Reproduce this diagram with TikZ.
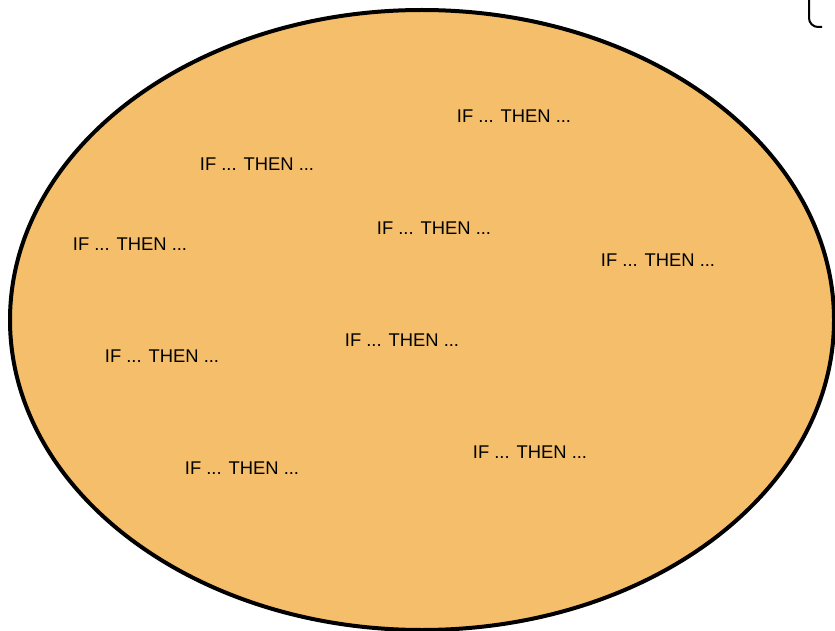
\documentclass[tikz,border=0pt]{standalone}
\usepackage{fontspec}
\setmainfont{Liberation Sans}
\usepackage{xcolor}
\definecolor{SetOrange}{RGB}{245,190,106}
\tikzset{
	rulebase/.style={draw=black, line width=4pt, fill=SetOrange},
	rule/.style={font=\fontsize{18.4}{21}\selectfont, inner sep=0pt},
	frag/.style={draw=black, line width=2pt}
}

\begin{document}
\begin{tikzpicture}[x=1pt, y=-1pt]
		\useasboundingbox (0,0) rectangle (835,631);
		\draw[rulebase] (422,320) ellipse [x radius=412, y radius=310];
		% corner of a box cut off at the top right
		\draw[frag] (809,0) -- (809,18) arc[start angle=180, end angle=270, x radius=9, y radius=-9] -- (822,27);
		\node[rule] (r1) at (514,116) {IF ... THEN ...};
		\node[rule] (r2) at (257,164) {IF ... THEN ...};
		\node[rule] (r3) at (130,244) {IF ... THEN ...};
		\node[rule] (r4) at (434,228) {IF ... THEN ...};
		\node[rule] (r5) at (658,260) {IF ... THEN ...};
		\node[rule] (r6) at (162,356) {IF ... THEN ...};
		\node[rule] (r7) at (402,340) {IF ... THEN ...};
		\node[rule] (r8) at (242,468) {IF ... THEN ...};
		\node[rule] (r9) at (530,452) {IF ... THEN ...};
	\end{tikzpicture}
\end{document}
